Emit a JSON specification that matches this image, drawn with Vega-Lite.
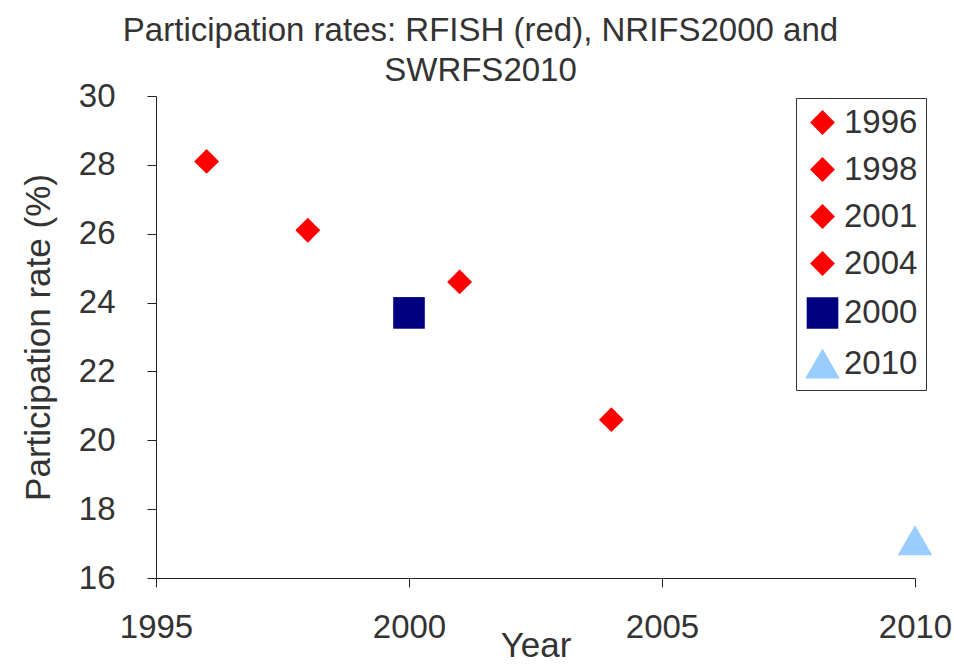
{
  "$schema": "https://vega.github.io/schema/vega-lite/v6.json",
  "width": 759,
  "height": 482,
  "autosize": {"type": "none"},
  "padding": {"left": 156, "top": 96, "right": 39, "bottom": 88},
  "background": "white",
  "config": {
    "view": {"stroke": null},
    "font": "Liberation Sans"
  },
  "title": {
    "text": ["Participation rates: RFISH (red), NRIFS2000 and", "SWRFS2010"],
    "fontSize": 33,
    "fontWeight": "normal",
    "color": "#333333",
    "anchor": "middle",
    "dx": -55,
    "lineHeight": 40,
    "offset": -8
  },
  "data": {
    "values": [
      {"year": 1996, "rate": 28.1, "series": "1996"},
      {"year": 1998, "rate": 26.1, "series": "1998"},
      {"year": 2001, "rate": 24.6, "series": "2001"},
      {"year": 2004, "rate": 20.6, "series": "2004"},
      {"year": 2000, "rate": 23.7, "series": "2000"},
      {"year": 2010, "rate": 17.1, "series": "2010"}
    ]
  },
  "mark": {"type": "point", "filled": true, "opacity": 1},
  "encoding": {
    "x": {
      "field": "year",
      "type": "quantitative",
      "scale": {"domain": [1995, 2010], "nice": false, "zero": false},
      "axis": {
        "values": [1995, 2000, 2005, 2010],
        "format": "d",
        "title": "Year",
        "grid": false,
        "domainColor": "#222222",
        "tickColor": "#222222",
        "tickSize": 9,
        "labelFlush": false,
        "labelFontSize": 33,
        "labelColor": "#333333",
        "labelPadding": 24,
        "titleFontSize": 35,
        "titleFontWeight": "normal",
        "titleColor": "#333333",
        "titlePadding": -16
      }
    },
    "y": {
      "field": "rate",
      "type": "quantitative",
      "scale": {"domain": [16, 30], "nice": false, "zero": false},
      "axis": {
        "values": [16, 18, 20, 22, 24, 26, 28, 30],
        "title": "Participation rate (%)",
        "grid": false,
        "domainColor": "#222222",
        "tickColor": "#222222",
        "tickSize": 9,
        "labelFlush": false,
        "labelFontSize": 33,
        "labelColor": "#333333",
        "labelPadding": 32,
        "titleFontSize": 35,
        "titleFontWeight": "normal",
        "titleColor": "#333333",
        "titlePadding": 22
      }
    },
    "color": {
      "field": "series",
      "type": "nominal",
      "scale": {
        "domain": ["1996", "1998", "2001", "2004", "2000", "2010"],
        "range": ["#FF0000", "#FF0000", "#FF0000", "#FF0000", "#000080", "#99CCFF"]
      },
      "legend": {
        "title": null,
        "orient": "none",
        "legendX": 640,
        "legendY": 2,
        "padding": 8,
        "strokeColor": "#333333",
        "fillColor": "white",
        "labelFontSize": 33,
        "labelColor": "#333333",
        "rowPadding": 13,
        "symbolOpacity": 1,
        "labelOffset": 3
      }
    },
    "shape": {
      "field": "series",
      "type": "nominal",
      "scale": {
        "domain": ["1996", "1998", "2001", "2004", "2000", "2010"],
        "range": ["diamond", "diamond", "diamond", "diamond", "square", "triangle-up"]
      }
    },
    "size": {
      "field": "series",
      "type": "nominal",
      "scale": {
        "type": "ordinal",
        "domain": ["1996", "1998", "2001", "2004", "2000", "2010"],
        "range": [620, 620, 620, 620, 1000, 1200]
      },
      "legend": null
    }
  }
}
